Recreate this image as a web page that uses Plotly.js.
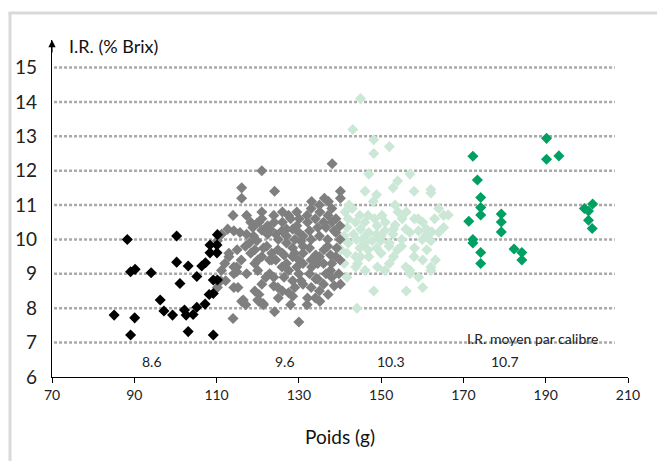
<!DOCTYPE html>
<html><head><meta charset="utf-8">
<script src="https://cdn.plot.ly/plotly-3.0.1.min.js"></script>
<style>html,body{margin:0;padding:0;background:#fff}#chart{width:657px;height:461px}</style>
</head><body><div id="chart"></div>
<script>
// Calibre 1 (black)
const blackX = [88.3,100.3,110.2,108.4,110.1,108.4,110.1,85.1,90.1,89.1,89.1,90.2,94.1,100.3,103.1,101.1,105.2,106.4,107.3,96.3,97.2,99.3,102.2,102.6,104.3,105.2,107.2,108.2,109.2,109.2,110.2,103.1,109.2];
const blackY = [10.0,10.1,10.14,9.84,9.84,9.61,9.61,7.8,7.72,7.22,9.06,9.13,9.03,9.34,9.23,8.72,8.92,9.23,9.32,8.24,7.92,7.8,7.95,7.8,7.82,8.03,8.12,8.4,8.43,8.82,8.82,7.32,7.22];
// Calibre 2 (grey)
const greyX = [121,138.1,116.1,116.1,124.1,133.1,136.2,137.2,140.1,140.1,114,121,123.9,127.5,129.5,130.1,132.1,135.1,137.1,139,112.7,114.2,115.7,111.2,110.2,113,113,114.2,114.2,111.2,112.2,110.2,114.2,115.2,116.1,117.1,114,117.3,118.3,119.3,119.3,119.3,120.3,120.3,121.4,124.1,130,128,132.1,135.1,137.1,138.6,140.1,123.9,124.9,127.5,128.5,130.5,134.6,122.9,123.9,125.9,127.5,129.5,131,133.1,134.6,137.7,139.7,119.8,122.4,124.4,125.9,128.5,129.5,132.6,134.6,136.6,138.6,118.8,117.3,121.4,123.4,124.9,126.4,128.5,130.5,132.6,134.1,136.1,137.7,139.2,122.9,124.4,128.5,130,126.4,128.5,132.6,134.1,136.6,117.3,118.3,120.3,122.4,126,127,131,133,135,137,139,140,140,125,127,129,131,133,135,136,138,140,120,121,126,127,130,131,133,135,136,138,121,122,126,129,132,134,125,124,130,132,134,136,138,126,128,133,135,138,119,118,116,115,117,120,121,123,127,129,131,137,139,112,111,114.9,114.9,119.8,121,122.2,123.4,116.5,120,121.3];
const greyY = [12.0,12.2,11.5,11.2,11.4,11.1,11.2,11.1,11.4,11.2,10.7,10.8,10.7,10.7,10.8,10.6,10.5,10.8,10.7,10.6,10.3,10.25,10.2,10.15,9.96,9.6,9.5,9.2,9.0,9.1,8.8,8.6,8.6,8.6,8.2,8.1,7.7,9.0,9.6,9.7,9.3,8.5,8.4,8.2,8.1,7.9,7.6,8.1,8.3,8.2,8.4,8.65,8.7,8.65,8.6,8.45,8.35,8.8,8.85,9.0,8.9,9.2,9.1,9.2,9.3,9.2,9.3,9.1,9.0,9.96,10.15,10.15,10.25,10.3,10.4,10.25,10.35,10.35,10.25,10.35,10.15,9.75,9.6,9.7,9.55,9.75,9.95,9.75,9.55,9.7,9.55,9.75,9.4,9.4,9.5,9.4,8.9,8.8,9.0,8.85,9.0,10.7,10.5,10.5,10.4,10.5,10.3,10.1,10.0,10.1,10.0,10.2,10.4,10.0,10.0,9.9,9.6,9.6,9.4,9.5,9.3,9.3,9.4,9.1,9.5,9.6,9.3,9.0,8.7,8.6,8.5,8.7,8.9,8.7,8.9,8.5,8.6,8.1,8.3,8.3,10.5,10.2,10.7,10.6,10.5,10.5,10.8,10.6,10.9,11.0,10.9,10.1,9.9,9.4,9.7,9.8,9.4,10.6,10.3,10.1,10.0,9.8,9.8,9.5,9.3,8.8,9.2,9.06,10.47,10.27,9.8,9.4,8.24,8.24,8.14];
// Calibre 3 (light green)
const lgreenX = [145,143.1,148.2,152,148.2,147,157,154,152.9,146.1,158,162.1,162.1,148.9,148.1,153.4,142.2,141.2,144.8,143.8,146.8,148.4,150.2,154.1,155.1,156.1,158.1,160.1,164,165.2,165.2,157,159.1,161.1,162.1,150.9,152.9,141.7,143.3,145.8,147.8,148.9,149.9,144.8,146.8,148.9,151.9,154,158.1,161.1,163.2,160.1,162.1,162.1,141.7,140.2,143.8,144.3,143.8,146.1,149.1,150.9,157,157,159.1,141.7,160.1,148.2,156.1,144.1,141,142,143,145,146,147,149,150,151,152,153,155,156,160,159,161,163,144,147,150,153,155,156,158,146,142,141,145,152,164,166.3,162.3,153.4];
const lgreenY = [14.1,13.2,12.9,12.7,12.5,11.9,11.9,11.7,11.5,11.4,11.4,11.45,11.35,11.3,11.1,11.0,11.0,10.8,10.7,10.5,10.7,10.6,10.7,10.8,10.6,10.8,10.6,10.5,10.9,10.7,10.35,10.2,10.25,10.15,9.96,10.25,10.15,10.35,10.15,10.05,9.96,10.15,9.96,9.75,9.7,9.75,9.8,9.7,9.75,9.7,9.4,9.4,9.2,9.1,9.6,9.7,9.5,9.3,9.2,9.1,9.2,9.1,9.1,9.0,8.9,8.9,8.6,8.5,8.5,8.0,10.1,10.6,10.9,10.3,10.5,10.2,10.4,10.1,10.5,9.9,10.3,10.0,10.3,10.0,10.6,10.3,10.6,10.0,9.5,9.6,9.5,9.8,9.2,9.5,9.9,9.9,9.3,9.5,9.3,10.2,10.71,10.22,10.42];
// Calibre 4 (green)
const greenX = [172.3,173.4,174.2,174.2,174.2,171.3,172.3,172.3,174.2,174.2,179.2,179.2,179.2,182.3,184.2,184.2,190.2,190.2,193.2,199.4,200.4,201.4,200.4,201.3];
const greenY = [12.42,11.73,11.22,10.93,10.71,10.53,10.0,9.9,9.62,9.3,10.74,10.51,10.22,9.72,9.62,9.4,12.94,12.33,12.43,10.9,10.83,11.03,10.56,10.32];
// Mean I.R. per calibre
const meanLabels = ["8.6","9.6","10.3","10.7"];
const meanX = [94.3,126.6,152.4,180.1];
const yTicks = [6,7,8,9,10,11,12,13,14,15];
const xTicks = [70,90,110,130,150,170,190,210];

const FONT = "Lato, 'Open Sans', sans-serif";
function tr(x,y,c){return {x:x,y:y,type:'scatter',mode:'markers',marker:{symbol:'diamond',size:8.5,color:c,line:{width:0}},hoverinfo:'x+y',showlegend:false,cliponaxis:false};}
const data = [tr(blackX,blackY,'#000000'),tr(greyX,greyY,'#7f7f7f'),tr(lgreenX,lgreenY,'#cbe7d5'),tr(greenX,greenY,'#00a063')];
// put light green under grey? reorder: light green drawn before grey
const traces=[data[2],data[1],data[0],data[3]];

const shapes = [];
yTicks.slice(1).forEach(v=>{
  shapes.push({type:'line',xref:'x',yref:'y',x0:70.5,x1:206.8,y0:v,y1:v,line:{color:'#a9a9a9',width:2.5,dash:'3px,2px'},layer:'below'});
});
// frame
shapes.push({type:'line',xref:'paper',yref:'paper',x0:-0.0729,x1:-0.0729,y0:-0.3,y1:1.08,line:{color:'#d9d9d9',width:3}});
shapes.push({type:'line',xref:'paper',yref:'paper',x0:-0.0755,x1:1.1,y0:1.08,y1:1.08,line:{color:'#d9d9d9',width:3}});

const annotations = meanLabels.map((t,i)=>({x:meanX[i],y:6.44,xref:'x',yref:'y',text:t,showarrow:false,font:{family:FONT,size:14,color:'#222'}}));
annotations.push({x:186.7,y:7.12,xref:'x',yref:'y',text:'I.R. moyen par calibre',showarrow:false,font:{family:FONT,size:14,color:'#222'}});
annotations.push({x:0.026,y:0.982,xref:'paper',yref:'paper',xanchor:'left',yanchor:'middle',text:'I.R. (% Brix)',showarrow:false,font:{family:FONT,size:18,color:'#111'}});
annotations.push({x:0.5,y:-0.178,xref:'paper',yref:'paper',xanchor:'center',yanchor:'middle',text:'Poids (g)',showarrow:false,font:{family:FONT,size:19,color:'#111'}});
annotations.push({x:70,y:15.8,xref:'x',yref:'y',ax:0,ay:14,axref:'pixel',ayref:'pixel',text:'',showarrow:true,arrowhead:2,arrowsize:1.2,arrowwidth:1.2,arrowcolor:'#000',standoff:0});

const layout = {
  width:657,height:461,
  margin:{l:52,r:29,t:40,b:84},
  paper_bgcolor:'#fff',plot_bgcolor:'#fff',
  showlegend:false,
  font:{family:FONT,color:'#111'},
  xaxis:{range:[70,210],tickvals:xTicks,ticktext:xTicks.map(String),showgrid:false,zeroline:false,showline:true,linecolor:'#000',linewidth:1.2,ticks:'outside',ticklen:5,tickcolor:'#000',tickfont:{family:FONT,size:14,color:'#222'}},
  yaxis:{range:[6,15.8],tickvals:yTicks,ticktext:yTicks.map(String),showgrid:false,zeroline:false,showline:true,linecolor:'#000',linewidth:1.2,ticks:'',ticklabelstandoff:10,tickfont:{family:FONT,size:19,color:'#222'}},
  shapes:shapes,annotations:annotations
};
Plotly.newPlot('chart',traces,layout,{displayModeBar:false,staticPlot:true});
</script></body></html>
